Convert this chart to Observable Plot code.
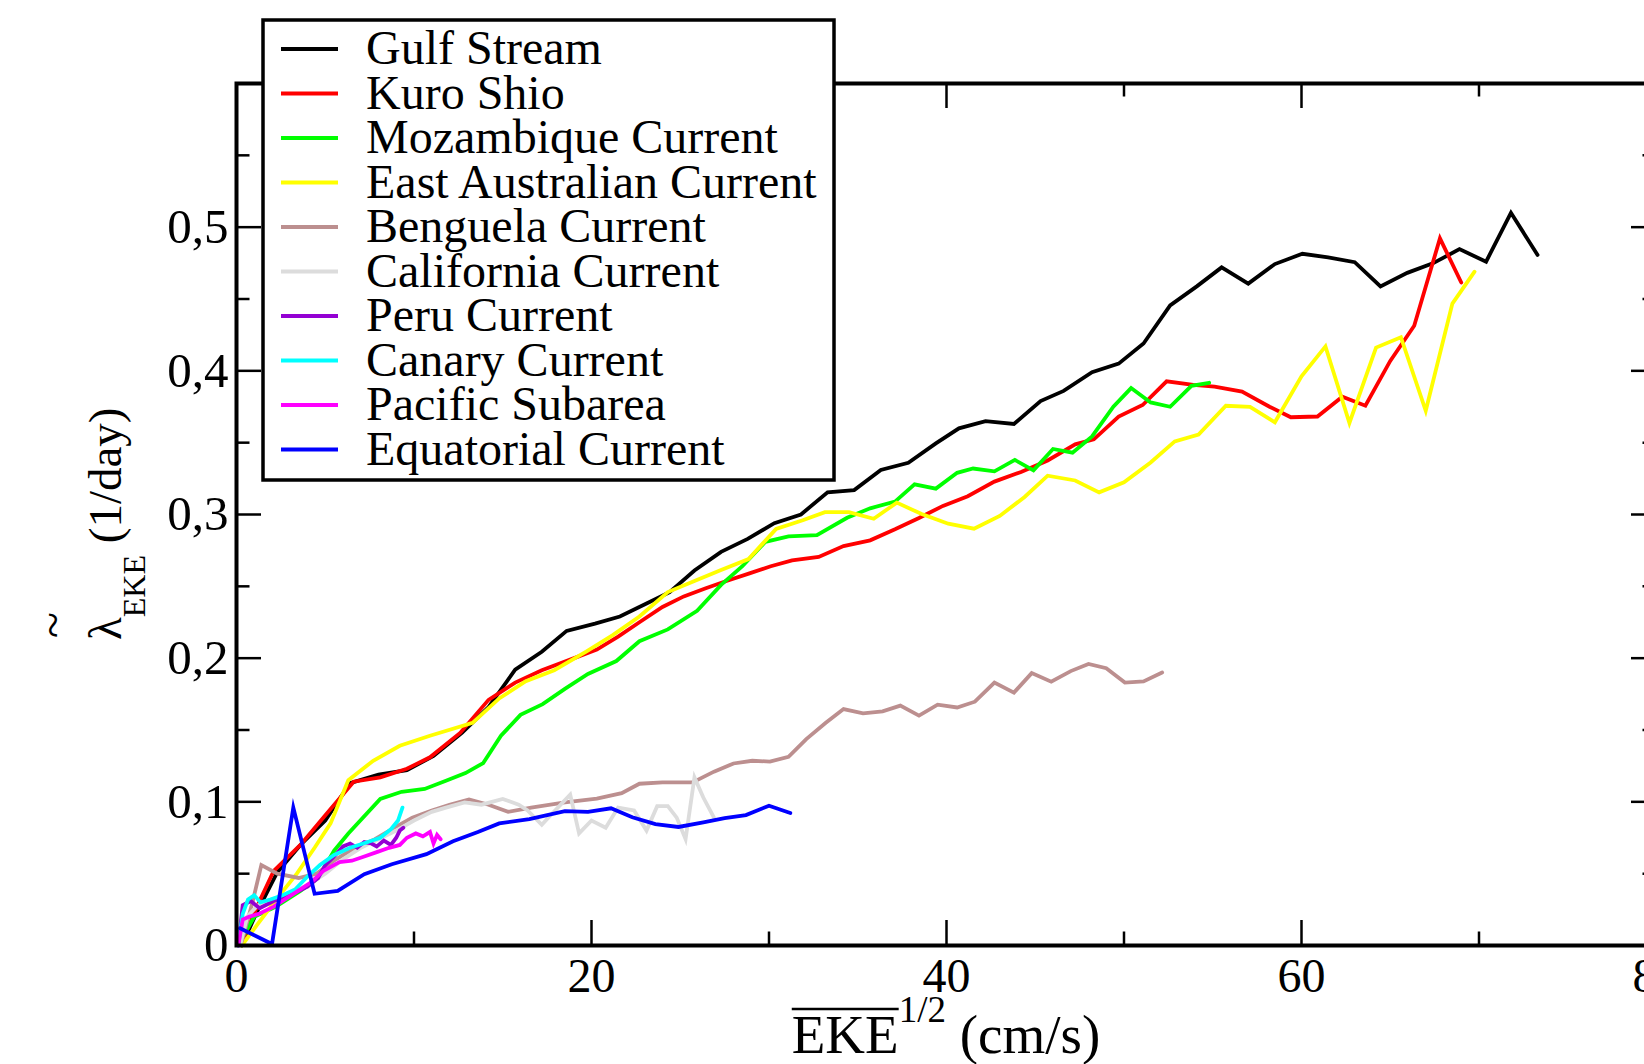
<!DOCTYPE html>
<html><head><meta charset="utf-8">
<script src="https://cdn.jsdelivr.net/npm/d3@7"></script>
<script src="https://cdn.jsdelivr.net/npm/@observablehq/plot@0.6"></script>
<style>
html,body{margin:0;padding:0;background:#fff;overflow:hidden;}
#chart{width:1644px;height:1064px;overflow:hidden;}
#chart svg{display:block;overflow:hidden;max-width:none;}
</style></head><body><div id="chart"></div>
<script>
const seriesNames = ["Gulf Stream","Kuro Shio","Mozambique Current","East Australian Current","Benguela Current","California Current","Peru Current","Canary Current","Pacific Subarea","Equatorial Current"];
const seriesColors = ["#000000","#ff0000","#00ff00","#ffff00","#bc8f8f","#dcdcdc","#9400d3","#00ffff","#ff00ff","#0000ff"];

const gulfStream = [[0.3,0.0],[1.1,0.022],[2.3,0.051],[3.6,0.07],[5.0,0.087],[6.4,0.113],[8.0,0.119],[9.6,0.122],[11.1,0.132],[12.7,0.148],[14.2,0.166],[15.7,0.192],[17.2,0.2045],[18.6,0.219],[20.2,0.224],[21.6,0.229],[23.1,0.238],[24.4,0.246],[25.8,0.261],[27.3,0.274],[28.8,0.283],[30.3,0.294],[31.8,0.300],[33.3,0.3155],[34.8,0.317],[36.3,0.331],[37.85,0.336],[39.4,0.3495],[40.7,0.360],[42.2,0.365],[43.8,0.363],[45.3,0.379],[46.6,0.386],[48.2,0.399],[49.7,0.405],[51.1,0.419],[52.6,0.4455],[54.1,0.4588],[55.5,0.472],[57.0,0.4607],[58.5,0.4743],[60.05,0.4815],[61.5,0.479],[63.0,0.4756],[64.45,0.4588],[65.96,0.4682],[67.4,0.4748],[68.9,0.4847],[70.4,0.476],[71.8,0.510],[73.3,0.4807]];
const kuroShio = [[0.4,0.005],[1.3,0.031],[2.1,0.052],[3.6,0.07],[5.1,0.092],[6.6,0.114],[8.1,0.117],[9.6,0.123],[10.9,0.131],[12.6,0.148],[14.2,0.171],[15.7,0.183],[17.2,0.1916],[18.8,0.199],[20.3,0.206],[21.5,0.215],[22.7,0.225],[24.0,0.2356],[25.2,0.243],[26.4,0.2485],[27.6,0.2537],[28.9,0.259],[30.1,0.264],[31.3,0.268],[32.8,0.2705],[34.2,0.278],[35.7,0.282],[37.1,0.2897],[38.45,0.2976],[39.8,0.306],[41.2,0.3127],[42.7,0.3229],[44.2,0.3296],[45.7,0.3376],[47.25,0.3488],[48.3,0.3523],[49.7,0.3682],[51.05,0.3762],[52.4,0.3927],[53.9,0.3903],[55.1,0.389],[56.65,0.3856],[58.2,0.375],[59.4,0.3677],[60.9,0.3682],[62.3,0.382],[63.6,0.3757],[65.0,0.4069],[66.35,0.4314],[67.8,0.4922],[69.0,0.4615]];
const mozambique = [[0.3,0.005],[1.0,0.02],[2.2,0.027],[3.6,0.038],[4.6,0.047],[5.5,0.066],[6.3,0.078],[8.1,0.102],[9.3,0.107],[10.6,0.109],[11.8,0.1147],[12.9,0.12],[13.9,0.127],[14.9,0.146],[16.0,0.1605],[17.25,0.168],[18.5,0.1786],[19.8,0.189],[21.4,0.198],[22.7,0.2118],[24.3,0.22],[25.95,0.233],[27.3,0.251],[28.5,0.264],[29.8,0.281],[31.1,0.2848],[32.7,0.2856],[34.4,0.2977],[35.7,0.3043],[37.1,0.309],[38.2,0.321],[39.4,0.318],[40.6,0.329],[41.5,0.332],[42.7,0.330],[43.85,0.338],[44.9,0.3307],[46.0,0.3456],[47.1,0.343],[48.2,0.3544],[49.4,0.375],[50.4,0.388],[51.5,0.378],[52.6,0.375],[53.8,0.3896],[54.8,0.3917]];
const eastAustralian = [[0.3,0.0],[1.2,0.015],[2.3,0.033],[3.4,0.05],[4.4,0.068],[5.3,0.085],[6.3,0.115],[7.7,0.1286],[9.2,0.139],[10.9,0.146],[13.3,0.155],[14.8,0.172],[16.3,0.184],[17.9,0.1916],[19.7,0.2045],[21.2,0.216],[22.7,0.229],[24.3,0.246],[25.8,0.2537],[27.3,0.2614],[28.85,0.269],[30.4,0.29],[31.9,0.296],[33.15,0.3016],[34.5,0.3016],[35.9,0.297],[37.2,0.3083],[38.6,0.3003],[40.1,0.2936],[41.55,0.2901],[43.0,0.299],[44.4,0.3122],[45.7,0.327],[47.25,0.3237],[48.6,0.3154],[50.0,0.3224],[51.5,0.3362],[52.86,0.3509],[54.2,0.3557],[55.74,0.3757],[57.1,0.3749],[58.5,0.3642],[60.0,0.3962],[61.35,0.417],[62.7,0.3637],[64.2,0.4162],[65.6,0.4234],[67.0,0.3722],[68.5,0.4468],[69.75,0.469]];
const benguela = [[0.3,0.003],[0.9,0.03],[1.4,0.056],[2.3,0.05],[3.5,0.047],[4.5,0.05],[5.6,0.06],[6.7,0.068],[7.8,0.074],[8.9,0.082],[9.9,0.089],[11.0,0.094],[12.0,0.098],[13.1,0.1017],[14.2,0.098],[15.3,0.093],[16.6,0.096],[18.5,0.0997],[20.3,0.1022],[21.7,0.106],[22.7,0.1126],[24.0,0.1135],[25.7,0.1135],[26.9,0.121],[28.0,0.1267],[29.06,0.1286],[30.05,0.128],[31.1,0.1314],[32.1,0.1437],[33.2,0.155],[34.2,0.1646],[35.3,0.1616],[36.4,0.163],[37.4,0.167],[38.45,0.160],[39.5,0.1676],[40.6,0.1657],[41.6,0.1697],[42.7,0.183],[43.8,0.176],[44.8,0.1896],[45.9,0.1836],[47.0,0.191],[48.0,0.196],[49.0,0.193],[50.05,0.183],[51.1,0.1838],[52.15,0.190]];
const california = [[0.2,0.0],[0.6,0.02],[1.2,0.028],[2.0,0.032],[3.0,0.036],[4.0,0.042],[5.0,0.05],[6.0,0.06],[7.0,0.068],[8.0,0.074],[9.0,0.08],[10.0,0.087],[11.0,0.093],[11.8,0.096],[12.85,0.0996],[13.8,0.098],[15.0,0.102],[15.9,0.098],[16.4,0.094],[17.2,0.084],[17.8,0.092],[18.8,0.105],[19.3,0.078],[20.0,0.087],[20.8,0.082],[21.5,0.096],[22.4,0.094],[23.1,0.080],[23.7,0.097],[24.3,0.097],[24.8,0.089],[25.3,0.074],[25.8,0.117],[26.3,0.103],[26.9,0.089]];
const peru = [[0.1,0.0],[0.35,0.028],[0.8,0.031],[1.3,0.026],[2.1,0.031],[3.0,0.035],[4.0,0.041],[4.6,0.047],[5.0,0.056],[5.5,0.062],[6.0,0.069],[6.4,0.071],[6.8,0.068],[7.2,0.072],[7.6,0.071],[7.9,0.069],[8.3,0.073],[8.7,0.07],[9.0,0.075],[9.2,0.08],[9.4,0.082]];
const canary = [[0.1,0.0],[0.35,0.022],[0.65,0.032],[1.0,0.035],[1.35,0.030],[1.9,0.032],[2.6,0.035],[3.3,0.039],[4.0,0.048],[4.7,0.056],[5.5,0.063],[6.4,0.068],[7.4,0.072],[8.1,0.075],[8.7,0.081],[9.1,0.087],[9.35,0.096]];
const pacificSubarea = [[0.1,0.0],[0.35,0.018],[0.7,0.02],[1.25,0.022],[2.1,0.027],[3.1,0.035],[4.2,0.044],[4.9,0.052],[5.8,0.058],[6.5,0.059],[7.2,0.062],[7.9,0.065],[8.6,0.068],[9.2,0.07],[9.6,0.075],[10.1,0.078],[10.5,0.076],[10.9,0.079],[11.1,0.071],[11.3,0.077],[11.5,0.074]];
const equatorial = [[0.2,0.012],[2.0,0.001],[3.2,0.096],[4.4,0.036],[5.7,0.038],[7.2,0.0497],[8.75,0.0566],[10.7,0.0636],[12.2,0.0725],[13.6,0.079],[14.8,0.085],[16.5,0.088],[18.5,0.0935],[19.8,0.093],[21.1,0.0955],[22.3,0.0893],[23.6,0.0845],[24.9,0.0825],[26.3,0.0857],[27.5,0.0887],[28.7,0.0908],[30.0,0.0973],[31.2,0.0922]];

const xTicksMajor = [0,20,40,60,80];
const xTicksMinor = [10,30,50,70];
const yTicksMajor = [0,0.1,0.2,0.3,0.4,0.5];
const yTickLabels = ["0","0,1","0,2","0,3","0,4","0,5"];
const yTicksMinor = [0.05,0.15,0.25,0.35,0.45,0.55];

const allSeries = [gulfStream,kuroShio,mozambique,eastAustralian,benguela,california,peru,canary,pacificSubarea,equatorial];
const table = allSeries.flatMap((s,i)=>s.map(([x,y])=>({series:seriesNames[i],x,y})));

const W=1644,H=1064, mL=236, mR=-12, mT=83, mB=119;
const fw=W-mL-mR, fh=H-mT-mB;
const major=25, minor=13.5, tickW=2.5;
const font="'Liberation Serif','Times New Roman',serif";

const plot = Plot.plot({
  width:W, height:H, marginLeft:mL, marginRight:mR, marginTop:mT, marginBottom:mB,
  style:{fontFamily:font, background:"#fff", overflow:"hidden", maxWidth:"none"},
  x:{domain:[0,80]}, y:{domain:[0,0.6]},
  color:{domain:seriesNames, range:seriesColors},
  marks:[
    Plot.line(table,{x:"x",y:"y",z:"series",stroke:"series",strokeWidth:3.8,strokeLinejoin:"miter",strokeMiterlimit:6}),
    Plot.ruleX(xTicksMajor,{insetTop:fh-major,strokeWidth:tickW}),
    Plot.ruleX(xTicksMinor,{insetTop:fh-minor,strokeWidth:tickW}),
    Plot.ruleX(xTicksMajor,{insetBottom:fh-major,strokeWidth:tickW}),
    Plot.ruleX(xTicksMinor,{insetBottom:fh-minor,strokeWidth:tickW}),
    Plot.ruleY(yTicksMajor,{insetRight:fw-major,strokeWidth:tickW}),
    Plot.ruleY(yTicksMinor,{insetRight:fw-minor,strokeWidth:tickW}),
    Plot.ruleY(yTicksMajor,{insetLeft:fw-major,strokeWidth:tickW}),
    Plot.ruleY(yTicksMinor,{insetLeft:fw-minor,strokeWidth:tickW}),
    Plot.frame({stroke:"#000",strokeWidth:4}),
    Plot.axisX({ticks:xTicksMajor,tickSize:0,tickPadding:12.5,fontSize:48,tickFormat:d=>String(d),label:null}),
    Plot.axisY({ticks:yTicksMajor,tickSize:0,tickPadding:8,fontSize:49,label:null,
      tickFormat:d=>yTickLabels[Math.round(d*10)]})
  ]
});
document.getElementById("chart").appendChild(plot);

const svg = d3.select(plot);
const xs = plot.scale("x");

// Legend
const lg = svg.append("g").attr("font-family",font).attr("font-size",48).attr("text-anchor","start");
lg.append("rect").attr("x",263).attr("y",20).attr("width",571).attr("height",460)
  .attr("fill","#fff").attr("stroke","#000").attr("stroke-width",3.5);
seriesNames.forEach((name,i)=>{
  const cy = 49 + 44.5*i;
  lg.append("line").attr("x1",281).attr("x2",338).attr("y1",cy).attr("y2",cy)
    .attr("stroke",seriesColors[i]).attr("stroke-width",4);
  lg.append("text").attr("x",366).attr("y",cy+15).attr("fill","#000").text(name);
});

// X label
const cx = xs.apply(40);
const xl = svg.append("text").attr("font-family",font).attr("font-size",55)
  .attr("x",cx).attr("y",1053).attr("text-anchor","middle").attr("fill","#000");
xl.append("tspan").text("EKE");
xl.append("tspan").attr("font-size",37).attr("dy",-31).text("1/2");
xl.append("tspan").attr("dy",31).text(" (cm/s)");
const ekeStart = xl.node().getStartPositionOfChar(0).x;
const ekeLen = xl.node().getSubStringLength(0,3);
svg.append("line").attr("x1",ekeStart).attr("x2",ekeStart+ekeLen)
  .attr("y1",1009).attr("y2",1009).attr("stroke","#000").attr("stroke-width",2.5);

// Y label
const yg = svg.append("g").attr("transform","translate(121,640) rotate(-90)")
  .attr("font-family",font).attr("fill","#000").attr("text-anchor","start");
const yl = yg.append("text").attr("x",0).attr("y",0).attr("font-size",47);
yl.append("tspan").text("λ");
yl.append("tspan").attr("font-size",32).attr("dy",24).text("EKE");
yl.append("tspan").attr("dy",-24).text(" (1/day)");
yg.append("text").attr("x",15).attr("y",-52).attr("font-size",48).attr("text-anchor","middle").text("~");
</script></body></html>
